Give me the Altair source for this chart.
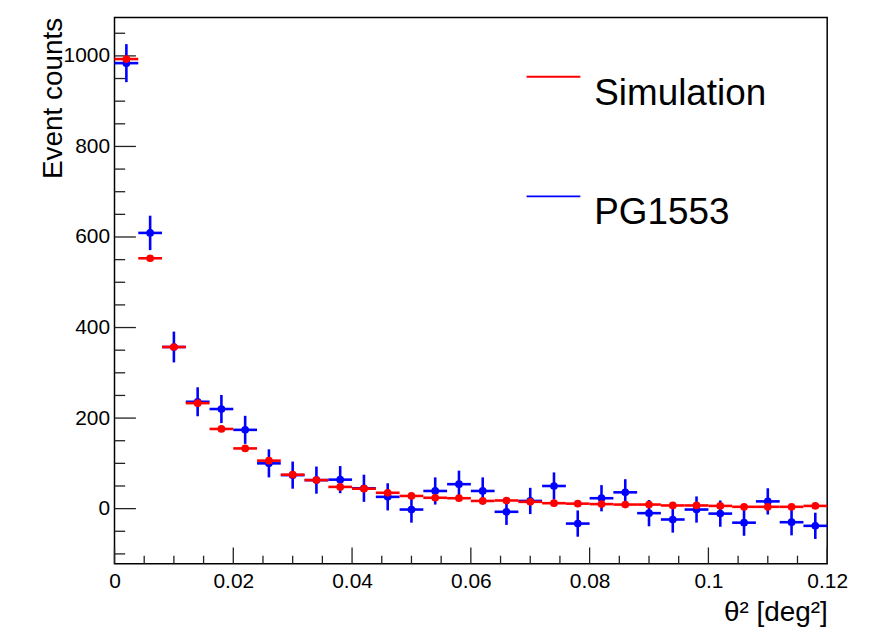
import altair as alt
import pandas as pd

# ---- data ----
bin_centers = [0.002, 0.006, 0.010, 0.014, 0.018, 0.022, 0.026, 0.030, 0.034, 0.038,
               0.042, 0.046, 0.050, 0.054, 0.058, 0.062, 0.066, 0.070, 0.074, 0.078,
               0.082, 0.086, 0.090, 0.094, 0.098, 0.102, 0.106, 0.110, 0.114, 0.118]
bin_half_width = 0.002
sim_counts = [993, 553, 357, 233, 176, 133, 106, 75, 63, 48,
              44, 35, 28, 24, 23, 17, 18, 15, 12, 11,
              10, 9, 9, 7, 7, 6, 4, 4, 4, 6]
pg_counts = [984, 609, 357, 236, 220, 174, 100, 74, 63, 64,
             45, 26, -2, 39, 54, 39, -7, 17, 50, -33,
             23, 36, -10, -24, -2, -11, -31, 16, -30, -38]
pg_errors = [42, 38, 34, 32, 31, 31, 31, 30, 30, 30,
             30, 30, 29, 30, 30, 30, 29, 29, 30, 29,
             29, 29, 29, 29, 29, 29, 29, 29, 29, 29]

x_major = [0, 0.02, 0.04, 0.06, 0.08, 0.1, 0.12]
x_minor = [0.005, 0.01, 0.015, 0.025, 0.03, 0.035, 0.045, 0.05, 0.055,
           0.065, 0.07, 0.075, 0.085, 0.09, 0.095, 0.105, 0.11, 0.115]
y_major = [0, 200, 400, 600, 800, 1000]
y_minor = [-100, -50, 50, 100, 150, 250, 300, 350, 450, 500, 550,
           650, 700, 750, 850, 900, 950, 1050]

legend_labels = ["Simulation", "PG1553"]
legend_colors = ["#ff0000", "#0000ff"]

x_domain = [0, 0.12]
y_domain = [-122, 1085]

# ---- layout ----
W, H = 716, 549
FONT = "Liberation Sans"

df = pd.DataFrame({
    "c": bin_centers,
    "sim": sim_counts,
    "pg": pg_counts,
    "err": pg_errors,
})
df["lo"] = df["c"] - bin_half_width
df["hi"] = df["c"] + bin_half_width
df["pg_lo"] = df["pg"] - df["err"]
df["pg_hi"] = df["pg"] + df["err"]

xs = alt.Scale(domain=x_domain, nice=False, zero=False)
ys = alt.Scale(domain=y_domain, nice=False, zero=False)

x_axis = alt.Axis(values=x_major, format="~g", ticks=False, tickSize=0, domain=False,
                  grid=False, labelFontSize=21, labelFont=FONT, labelColor="black",
                  labelBaseline="alphabetic", labelPadding=24, labelFlush=False,
                  title="θ² [deg²]", titleFont=FONT, titleFontSize=28,
                  titleFontWeight="normal", titleColor="black", titleAlign="right",
                  titleAnchor="end", titleX=W, titleY=57, titleBaseline="alphabetic")
y_axis = alt.Axis(values=y_major, format="d", ticks=False, tickSize=0, domain=False, grid=False,
                  labelFontSize=21, labelFont=FONT, labelColor="black",
                  labelPadding=5, labelFlush=False,
                  title="Event counts", titleFont=FONT, titleFontSize=28,
                  titleFontWeight="normal", titleColor="black", titleAngle=-90,
                  titleAlign="right", titleX=-53, titleY=0, titleBaseline="alphabetic")

base = alt.Chart(df)

# axes carrier (invisible)
axes_layer = base.mark_point(opacity=0).encode(
    x=alt.X("c:Q", scale=xs, axis=x_axis),
    y=alt.Y("sim:Q", scale=ys, axis=y_axis),
)

tick_color = "#222222"
xmaj = alt.Chart(pd.DataFrame({"v": x_major})).mark_rule(color=tick_color, strokeWidth=1.3).encode(
    x=alt.X("v:Q", scale=xs), y=alt.value(H), y2=alt.value(H - 16.5))
xmin = alt.Chart(pd.DataFrame({"v": x_minor})).mark_rule(color=tick_color, strokeWidth=1.3).encode(
    x=alt.X("v:Q", scale=xs), y=alt.value(H), y2=alt.value(H - 8.2))
ymaj = alt.Chart(pd.DataFrame({"v": y_major})).mark_rule(color=tick_color, strokeWidth=1.3).encode(
    y=alt.Y("v:Q", scale=ys), x=alt.value(0), x2=alt.value(21.5))
ymin = alt.Chart(pd.DataFrame({"v": y_minor})).mark_rule(color=tick_color, strokeWidth=1.3).encode(
    y=alt.Y("v:Q", scale=ys), x=alt.value(0), x2=alt.value(10.7))

SW = 2.6
blue = "#0000ff"
red = "#ff0000"

pg_h = base.mark_rule(color=blue, strokeWidth=SW).encode(
    x=alt.X("lo:Q", scale=xs), x2="hi:Q", y=alt.Y("pg:Q", scale=ys))
pg_v = base.mark_rule(color=blue, strokeWidth=SW).encode(
    x=alt.X("c:Q", scale=xs), y=alt.Y("pg_lo:Q", scale=ys), y2="pg_hi:Q")
pg_p = base.mark_circle(color=blue, size=60, opacity=1).encode(
    x=alt.X("c:Q", scale=xs), y=alt.Y("pg:Q", scale=ys))

sim_h = base.mark_rule(color=red, strokeWidth=SW).encode(
    x=alt.X("lo:Q", scale=xs), x2="hi:Q", y=alt.Y("sim:Q", scale=ys))
sim_p = base.mark_circle(color=red, size=60, opacity=1).encode(
    x=alt.X("c:Q", scale=xs), y=alt.Y("sim:Q", scale=ys))

legend_layers = []
for i, (lab, col) in enumerate(zip(legend_labels, legend_colors)):
    ld = alt.Chart(pd.DataFrame({"label": [lab]}))
    legend_layers.append(ld.mark_rule(color=col, strokeWidth=2).encode(
        x=alt.value(414), x2=alt.value(468), y=alt.value(59.5 + i * 120.3)))
    legend_layers.append(ld.mark_text(align="left", baseline="alphabetic", font=FONT,
                                      fontSize=37, color="black").encode(
        x=alt.value(482), y=alt.value(87.5 + i * 120.3), text="label:N"))

chart = alt.layer(
    axes_layer, xmin, xmaj, ymin, ymaj, pg_h, pg_v, pg_p, sim_h, sim_p, *legend_layers
).properties(
    width=W, height=H,
    padding={"left": 107, "top": 8, "right": 40, "bottom": 68},
    autosize=alt.AutoSizeParams(type="none"),
).configure_view(stroke="black", strokeWidth=1.5)

chart.save("out.html", embed_options={"renderer": "svg", "actions": False})
